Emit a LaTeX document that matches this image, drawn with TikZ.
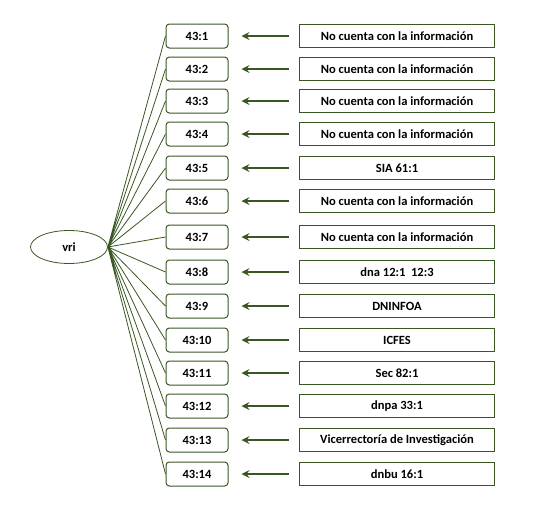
\documentclass[tikz,border=0pt]{standalone}
\usepackage{fontspec}
\setmainfont{Carlito}
\usetikzlibrary{shapes.geometric,positioning}
\definecolor{leafgreen}{RGB}{56,87,35}

\begin{document}
\begin{tikzpicture}[%
    x=0.75pt, y=-0.75pt,
    >=stealth,
    node distance=150pt,
    on grid,
    font=\fontsize{9.4}{11}\selectfont\bfseries,
    root/.style={ellipse, draw=leafgreen, line width=0.6pt,
      minimum width=57.75pt, minimum height=24.75pt, inner sep=0pt},
    code/.style={rectangle, rounded corners=2.5pt, draw=leafgreen,
      line width=0.75pt, minimum width=46.5pt, minimum height=18pt, inner sep=0pt},
    source/.style={rectangle, draw=leafgreen, line width=0.75pt,
      minimum width=146.25pt, minimum height=17.25pt, inner sep=0pt},
    spoke/.style={draw=leafgreen, line width=0.6pt},
    feed/.style={draw=leafgreen, ->, line width=1.6pt,
      shorten >=9.75pt, shorten <=7.5pt}
  ]
    \useasboundingbox (0,0) rectangle (544,511);

    \node[root] (vri) at (69,247) {vri};

    \node[code] (k1)  at (197,36)  {43:1};
    \node[code] (k2)  at (197,69)  {43:2};
    \node[code] (k3)  at (197,101) {43:3};
    \node[code] (k4)  at (197,134) {43:4};
    \node[code] (k5)  at (197,168) {43:5};
    \node[code] (k6)  at (197,201) {43:6};
    \node[code] (k7)  at (197,237) {43:7};
    \node[code] (k8)  at (197,272) {43:8};
    \node[code] (k9)  at (197,306) {43:9};
    \node[code] (k10) at (197,340) {43:10};
    \node[code] (k11) at (197,373) {43:11};
    \node[code] (k12) at (197,406) {43:12};
    \node[code] (k13) at (197,440) {43:13};
    \node[code] (k14) at (197,474) {43:14};

    \node[source] (s1)  [right=of k1]  {No cuenta con la información};
    \node[source] (s2)  [right=of k2]  {No cuenta con la información};
    \node[source] (s3)  [right=of k3]  {No cuenta con la información};
    \node[source] (s4)  [right=of k4]  {No cuenta con la información};
    \node[source] (s5)  [right=of k5]  {SIA 61:1};
    \node[source] (s6)  [right=of k6]  {No cuenta con la información};
    \node[source] (s7)  [right=of k7]  {No cuenta con la información};
    \node[source] (s8)  [right=of k8]  {dna 12:1\ \ 12:3};
    \node[source] (s9)  [right=of k9]  {DNINFOA};
    \node[source] (s10) [right=of k10] {ICFES};
    \node[source] (s11) [right=of k11] {Sec 82:1};
    \node[source] (s12) [right=of k12] {dnpa 33:1};
    \node[source] (s13) [right=of k13] {Vicerrectoría de Investigación};
    \node[source] (s14) [right=of k14] {dnbu 16:1};

    \path[spoke] (vri.east) -- (k1.west)
                 (vri.east) -- (k2.west)
                 (vri.east) -- (k3.west)
                 (vri.east) -- (k4.west)
                 (vri.east) -- (k5.west)
                 (vri.east) -- (k6.west)
                 (vri.east) -- (k7.west)
                 (vri.east) -- (k8.west)
                 (vri.east) -- (k9.west)
                 (vri.east) -- (k10.west)
                 (vri.east) -- (k11.west)
                 (vri.east) -- (k12.west)
                 (vri.east) -- (k13.west)
                 (vri.east) -- (k14.west);

    \path (s1.west)  edge [feed] (s1.west -| k1.east)
          (s2.west)  edge [feed] (s2.west -| k2.east)
          (s3.west)  edge [feed] (s3.west -| k3.east)
          (s4.west)  edge [feed] (s4.west -| k4.east)
          (s5.west)  edge [feed] (s5.west -| k5.east)
          (s6.west)  edge [feed] (s6.west -| k6.east)
          (s7.west)  edge [feed] (s7.west -| k7.east)
          (s8.west)  edge [feed] (s8.west -| k8.east)
          (s9.west)  edge [feed] (s9.west -| k9.east)
          (s10.west) edge [feed] (s10.west -| k10.east)
          (s11.west) edge [feed] (s11.west -| k11.east)
          (s12.west) edge [feed] (s12.west -| k12.east)
          (s13.west) edge [feed] (s13.west -| k13.east)
          (s14.west) edge [feed] (s14.west -| k14.east);
  \end{tikzpicture}
\end{document}
